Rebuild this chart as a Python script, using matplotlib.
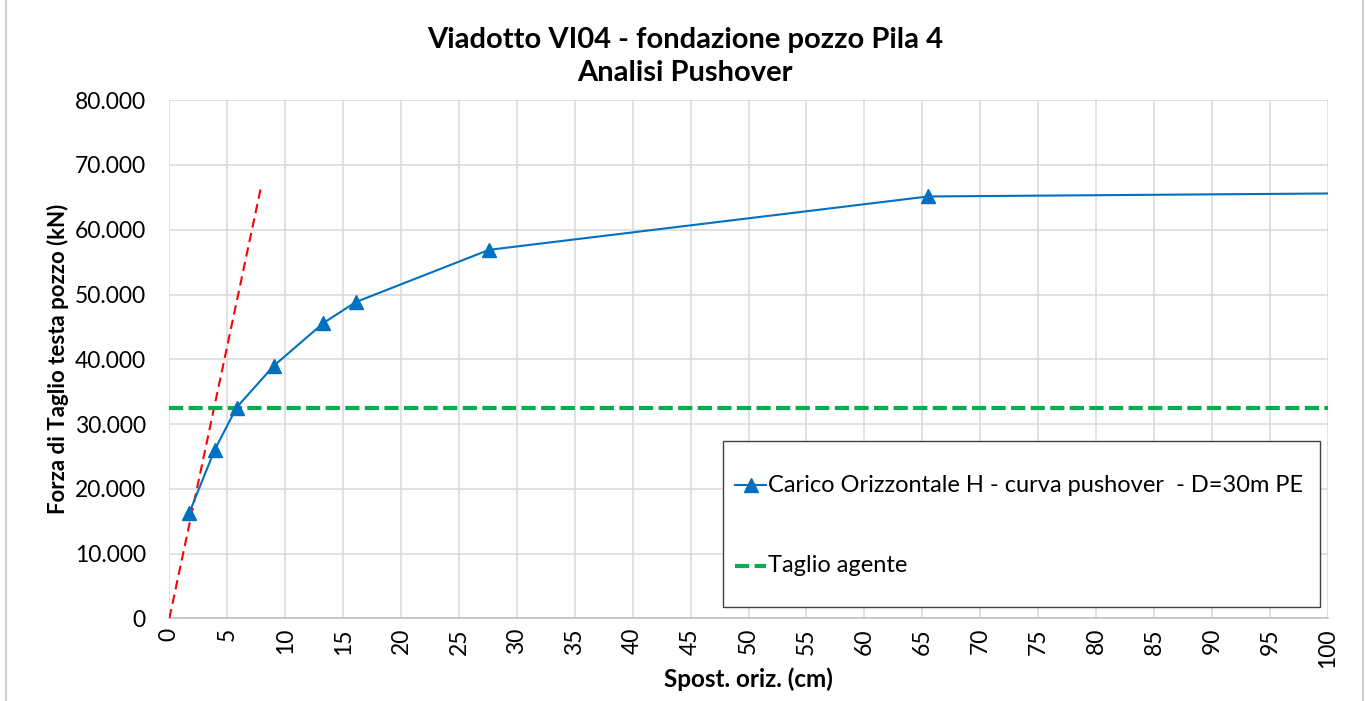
import matplotlib
matplotlib.use("Agg")
import matplotlib.pyplot as plt
from matplotlib.ticker import FuncFormatter, MultipleLocator
from matplotlib.lines import Line2D
from matplotlib.patches import Rectangle

# Pushover curve of the well foundation (displacement in cm, shear in kN)
spost_cm = [1.7, 3.9, 5.8, 9.0, 13.3, 16.1, 27.6, 65.5, 100.0]
taglio_kN = [16200, 25960, 32550, 38960, 45600, 48840, 56900, 65140, 65600]

# Initial elastic stiffness line
rigidezza_x = [0.0, 7.9]
rigidezza_y = [0, 66500]

# Design shear demand
taglio_agente = 32550

titolo = "Viadotto VI04 - fondazione pozzo Pila 4\nAnalisi Pushover"
label_curva = "Carico Orizzontale H - curva pushover  - D=30m PE"
label_agente = "Taglio agente"
xlabel = "Spost. oriz. (cm)"
ylabel = "Forza di Taglio testa pozzo (kN)"

plt.rcParams["font.family"] = ["Lato", "DejaVu Sans"]

W, H = 1367, 701
fig = plt.figure(figsize=(W / 100, H / 100), dpi=100)
ax = fig.add_axes([0.1239, 0.118, 0.9713 - 0.1239, 0.857 - 0.118])


def fx(px):
    return px / W


def fy(py):
    return 1 - py / H


blue = "#0070C0"
green = "#00B050"
red = "#FF0000"
curve_style = dict(color=blue, lw=1.5, marker="^", ms=9.5)
red_style = dict(color=red, lw=1.5, ls=(0, (4.5, 2.6)))
green_style = dict(color=green, lw=3, ls=(0, (3.4, 1.3)), dash_capstyle="butt")

ax.plot(spost_cm, taglio_kN, markevery=list(range(len(spost_cm) - 1)),
        zorder=4, **curve_style)
ax.plot(rigidezza_x, rigidezza_y, zorder=3, **red_style)
ax.axhline(taglio_agente, zorder=3, **green_style)

ax.set_xlim(0, 100)
ax.set_ylim(0, 80000)
ax.xaxis.set_major_locator(MultipleLocator(5))
ax.yaxis.set_major_locator(MultipleLocator(10000))
ax.yaxis.set_major_formatter(FuncFormatter(lambda v, p: f"{int(round(v)):,}".replace(",", ".")))
ax.xaxis.set_major_formatter(FuncFormatter(lambda v, p: f"{int(round(v))}"))
ax.grid(True, color="#d9d9d9", lw=1.1)
ax.set_axisbelow(True)
for s in ["top", "right", "left"]:
    ax.spines[s].set_visible(False)
ax.spines["bottom"].set_color("#bfbfbf")
ax.spines["bottom"].set_linewidth(1.1)
ax.tick_params(axis="both", length=0, labelsize=16.5, colors="black")
ax.tick_params(axis="y", pad=17)
ax.tick_params(axis="x", labelrotation=90, pad=7)

ax.set_xlabel(xlabel, fontsize=17.5, fontweight="bold", labelpad=0)
ax.set_ylabel(ylabel, fontsize=16, fontweight="bold", labelpad=4)
fig.text(0.501, fy(56.5), titolo, ha="center", va="center", fontsize=21,
         fontweight="bold", linespacing=1.35)

# Legend box drawn in figure pixel coordinates
fig.patches.append(Rectangle((fx(723), fy(607)), fx(1320) - fx(723), fy(441) - fy(607),
                             transform=fig.transFigure, facecolor="white",
                             edgecolor="#404040", lw=1.0, zorder=5))
entries = [(485, label_curva, curve_style), (566, label_agente, green_style)]
for py, text, style in entries:
    kw = dict(style)
    if "marker" in kw:
        kw["markevery"] = [1]
    fig.lines.append(Line2D([fx(735), fx(750.5), fx(766)], [fy(py)] * 3,
                            transform=fig.transFigure, zorder=6, **kw))
    fig.text(fx(768), fy(py), text, ha="left", va="center", fontsize=17, zorder=6)

# Chart area border
fig.patches.append(Rectangle((fx(6), -0.01), fx(1363) - fx(6), 1.02,
                             transform=fig.transFigure, fill=False,
                             edgecolor="#d0d0d0", lw=1.5))

fig.savefig("out.png", dpi=100)
